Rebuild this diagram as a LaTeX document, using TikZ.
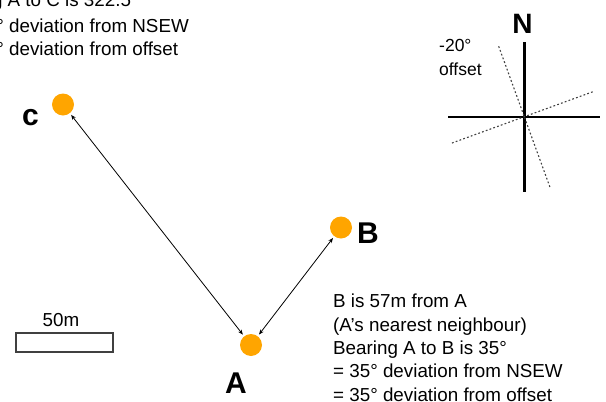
\documentclass[tikz,border=0pt]{standalone}
\usepackage{fontspec}
\setmainfont{Liberation Sans}
\usetikzlibrary{arrows.meta}
\definecolor{dotorange}{HTML}{FFA500}
\tikzset{
  site/.style={circle, fill=dotorange, minimum size=22pt, inner sep=0pt},
  sitelabel/.style={font=\fontsize{30}{30}\selectfont\bfseries, inner sep=0pt},
  bodytext/.style={font=\fontsize{18.8}{23.3}\selectfont, inner sep=0pt, align=left},
  link/.style={{Stealth[length=5pt,width=4pt]}-{Stealth[length=5pt,width=4pt]}, line width=0.8pt, black, shorten >=2pt, shorten <=2pt},
  axis/.style={line width=2.4pt, black},
  offaxis/.style={line width=1.1pt, black!75, dash pattern=on 1.8pt off 2.2pt},
  scalebar/.style={draw=black!75, line width=1.2pt},
}
\begin{document}
\begin{tikzpicture}[x=1pt, y=-1pt]
\useasboundingbox (0,0) rectangle (606,402);

% top-left text (clipped by page edge)
\node[bodytext, anchor=base west] (t1) at (-62.5,6) {Bearing A to C is 322.5°};
\node[bodytext, anchor=base west] (t2) at (-56.6,32.5) {= 37.5° deviation from NSEW};
\node[bodytext, anchor=base west] (t3) at (-56.6,55.5) {= 17.5° deviation from offset};

% sites
\node[site] (C) at (63,104.5) {};
\node[site] (B) at (341,227.5) {};
\node[site] (A) at (251,345) {};

\node[sitelabel, anchor=base west] (Clab) at (22,125) {c};
\node[sitelabel, anchor=base west] (Blab) at (357,243) {B};
\node[sitelabel, anchor=base] (Alab) at (236,393) {A};

% connectors
\draw[link] (A) -- (C);
\draw[link] (A) -- (B);

% scale bar
\node[scalebar, minimum width=97pt, minimum height=19pt, inner sep=0pt] (bar) at (64.5,342.5) {};
\node[bodytext, anchor=base] (barlab) at (61,326) {50m};

% right text (anchor = baseline of last line)
\node[bodytext, anchor=base west] (info) at (333,401)
  {B is 57m from A\\(A’s nearest neighbour)\\Bearing A to B is 35°\\= 35° deviation from NSEW\\= 35° deviation from offset};

% compass
\coordinate (O) at (524.3,116.7);
\coordinate (Ntop) at (524.3,42);
\coordinate (Nbot) at (524.3,192);
\coordinate (Wend) at (448,116.7);
\coordinate (Eend) at (600,116.7);
\draw[axis] (Ntop) -- (Nbot);
\draw[axis] (Wend) -- (Eend);
\draw[offaxis] (O) ++(-110:75) coordinate (d1) -- (O) -- ++(70:75) coordinate (d2);
\draw[offaxis] (O) ++(160:77) coordinate (d3) -- (O) -- ++(-20:73) coordinate (d4);
\node[font=\fontsize{28}{28}\selectfont\bfseries, inner sep=0pt, anchor=base] (N) at (522.5,33) {N};
\node[font=\fontsize{17.5}{23.3}\selectfont, inner sep=0pt, align=left, anchor=base west] (off) at (439,75) {-20°\\offset};
\end{tikzpicture}
\end{document}
